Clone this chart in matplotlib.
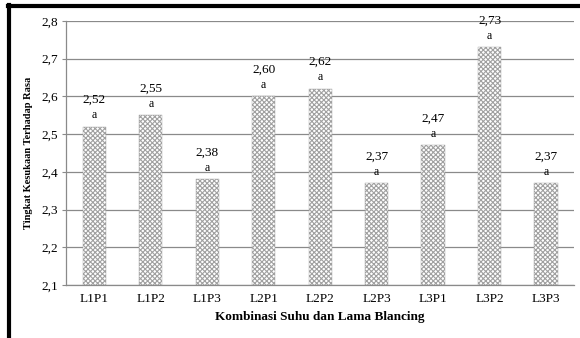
import numpy as np
import matplotlib.pyplot as plt
from matplotlib.lines import Line2D

plt.rcParams['font.family'] = ['Liberation Serif', 'DejaVu Serif']
plt.rcParams['hatch.color'] = '#808080'
plt.rcParams['hatch.linewidth'] = 0.8

treatments = ['L1P1', 'L1P2', 'L1P3', 'L2P1', 'L2P2', 'L2P3', 'L3P1', 'L3P2', 'L3P3']
scores = [2.52, 2.55, 2.38, 2.60, 2.62, 2.37, 2.47, 2.73, 2.37]
notation = ['a'] * 9

fig = plt.figure(figsize=(5.8, 3.38), dpi=100)
ax = fig.add_axes([0.114, 0.157, 0.876, 0.781])

x = np.arange(len(treatments))
ax.bar(x, np.array(scores) - 2.1, bottom=2.1, width=0.41, color='white',
       edgecolor='#a0a0a0', linewidth=0.3, hatch='xxxxxxx', zorder=3)

for xi, v, n in zip(x, scores, notation):
    ax.annotate(n, (xi, v), xytext=(0, 4), textcoords='offset points',
                ha='center', va='bottom', fontsize=8.5, zorder=4)
    ax.annotate(f'{v:.2f}'.replace('.', ','), (xi, v), xytext=(0, 15),
                textcoords='offset points', ha='center', va='bottom',
                fontsize=9.5, zorder=4)

ax.set_ylim(2.1, 2.8)
ax.set_xlim(-0.5, len(treatments) - 0.5)
yt = np.arange(2.1, 2.81, 0.1)
ax.set_yticks(yt)
ax.set_yticklabels([f'{t:.1f}'.replace('.', ',') for t in yt], fontsize=9.5)
ax.set_xticks(x)
ax.set_xticklabels(treatments, fontsize=9.5)
ax.tick_params(axis='x', length=0, pad=6)
ax.tick_params(axis='y', length=3, color='#8a8a8a', pad=3)
ax.yaxis.grid(True, color='#8a8a8a', linewidth=0.9, zorder=0)
ax.set_axisbelow(True)
for side in ['top', 'right']:
    ax.spines[side].set_visible(False)
for side in ['left', 'bottom']:
    ax.spines[side].set_color('#8a8a8a')
    ax.spines[side].set_linewidth(0.9)

ax.set_ylabel('Tingkat Kesukaan Terhadap Rasa', fontsize=7.5, fontweight='bold', labelpad=6)
ax.set_xlabel('Kombinasi Suhu dan Lama Blancing', fontsize=9.5, fontweight='bold', labelpad=4)

# frame lines along the top and left edge
fig.add_artist(Line2D([0.014, 1.0], [0.982, 0.982], color='black', linewidth=3,
                      transform=fig.transFigure))
fig.add_artist(Line2D([0.015, 0.015], [0.0, 0.984], color='black', linewidth=3,
                      transform=fig.transFigure))

fig.savefig('out.png', dpi=100)
